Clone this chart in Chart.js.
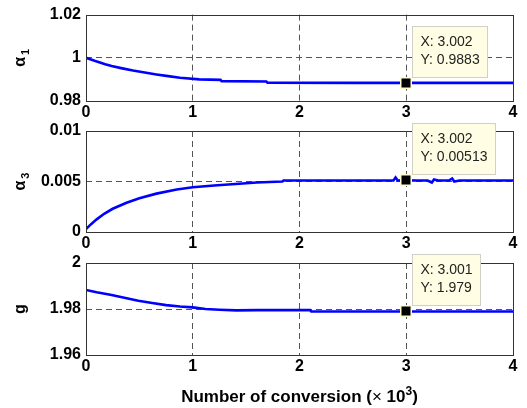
<!DOCTYPE html>
<html><head><meta charset="utf-8">
<script src="https://cdn.jsdelivr.net/npm/chart.js@4"></script>
<style>
html,body{margin:0;padding:0;background:#fff;}
#wrap{position:relative;width:527px;height:408px;overflow:hidden;background:#fff;}
.c{position:absolute;left:0;}
</style></head><body>
<div id="wrap">
<canvas id="c1" class="c" width="527" height="125" style="top:0px;width:527px;height:125px"></canvas>
<canvas id="c2" class="c" width="527" height="141" style="top:115px;width:527px;height:141px"></canvas>
<canvas id="c3" class="c" width="527" height="160" style="top:248px;width:527px;height:160px"></canvas>
</div>
<script>
// ---- data ----
const xTicks = [0, 1, 2, 3, 4];
const xLabelParts = ['Number of conversion (', '\u00d7', ' 10', '3', ')'];

const a1X = [0, 0.04, 0.08, 0.13, 0.18, 0.24, 0.34, 0.44, 0.55, 0.66, 0.77, 0.88, 1.06, 1.26, 1.27, 1.69, 1.70, 2.5, 3.002, 4.0];
const a1Y = [1.0000, 0.9993, 0.9986, 0.9978, 0.9970, 0.9962, 0.9951, 0.9941, 0.9932, 0.9923, 0.9915, 0.9908, 0.9900, 0.9898, 0.9892, 0.9890, 0.9885, 0.9884, 0.9884, 0.9884];
const a1Ticks = [0.98, 1, 1.02];
const a1Tip = [3.002, 0.9883];

const a3X = [0, 0.05, 0.1, 0.17, 0.25, 0.38, 0.5, 0.66, 0.85, 1.0, 1.2, 1.4, 1.6, 1.84, 1.85, 2.2, 2.6, 2.88, 2.9, 2.92, 3.002, 3.1, 3.2, 3.24, 3.26, 3.3, 3.4, 3.43, 3.45, 3.5, 4.0];
const a3Y = [0.0003, 0.0008, 0.00125, 0.0018, 0.0023, 0.0029, 0.00335, 0.0038, 0.0042, 0.00443, 0.0046, 0.00475, 0.0049, 0.0050, 0.0051, 0.0051, 0.0051, 0.0051, 0.0054, 0.0051, 0.00513, 0.0051, 0.0051, 0.0049, 0.0052, 0.0051, 0.0051, 0.0053, 0.0050, 0.0051, 0.0051];
const a3Ticks = [0, 0.005, 0.01];
const a3Tip = [3.002, 0.00513];

const gX = [0, 0.1, 0.24, 0.37, 0.49, 0.62, 0.75, 0.88, 1.0, 1.12, 1.25, 1.41, 1.6, 2.1, 2.11, 3.001, 4.0];
const gY = [1.9883, 1.9873, 1.9861, 1.9848, 1.9836, 1.9826, 1.9817, 1.9811, 1.9807, 1.9800, 1.9797, 1.9794, 1.9795, 1.9795, 1.9789, 1.9789, 1.9789];
const gTicks = [1.96, 1.98, 2];
const gTip = [3.001, 1.979];

// ---- rendering ----
const FONT = '"Liberation Sans", Arial, Helvetica, sans-serif';
Chart.defaults.font.family = FONT;

const framePlugin = {
  id: 'frame',
  afterDraw(chart) {
    const {ctx, chartArea: a} = chart;
    ctx.save();
    ctx.strokeStyle = '#333';
    ctx.lineWidth = 1;
    ctx.setLineDash([]);
    ctx.strokeRect(Math.round(a.left) + 0.5, Math.round(a.top) + 0.5,
                   Math.round(a.right - a.left), Math.round(a.bottom - a.top));
    ctx.restore();
  }
};

const tipPlugin = {
  id: 'tip',
  afterDraw(chart, args, opts) {
    if (!opts || opts.x === undefined) return;
    const ctx = chart.ctx;
    const mx = chart.scales.x.getPixelForValue(opts.x);
    const my = chart.scales.y.getPixelForValue(opts.y);
    const lines = ['X: ' + opts.x, 'Y: ' + opts.y];
    ctx.save();
    ctx.font = '14px ' + FONT;
    const w = Math.round(Math.max(...lines.map(l => ctx.measureText(l).width)) + 16);
    const bx = Math.round(mx + 6) + 0.5, by = Math.round(my - 57) + 0.5, bh = 51;
    ctx.fillStyle = '#fffee4';
    ctx.fillRect(bx, by, w, bh);
    ctx.strokeStyle = '#d0d0c4';
    ctx.lineWidth = 1;
    ctx.strokeRect(bx, by, w, bh);
    ctx.fillStyle = '#222';
    ctx.textBaseline = 'middle';
    ctx.fillText(lines[0], bx + 8, by + 16);
    ctx.fillText(lines[1], bx + 8, by + 34);
    ctx.fillStyle = '#fffbd0';
    ctx.fillRect(Math.round(mx) - 6, Math.round(my) - 6, 12, 12);
    ctx.fillStyle = '#000';
    ctx.fillRect(Math.round(mx) - 4.5, Math.round(my) - 4.5, 9, 9);
    ctx.restore();
  }
};

const yTitlePlugin = {
  id: 'ytitle',
  afterDraw(chart, args, o) {
    if (!o || !o.main) return;
    const ctx = chart.ctx, a = chart.chartArea;
    ctx.save();
    ctx.translate(21, (a.top + a.bottom) / 2);
    ctx.rotate(-Math.PI / 2);
    ctx.fillStyle = '#000';
    ctx.textAlign = 'left';
    ctx.textBaseline = 'alphabetic';
    ctx.font = 'bold 16px ' + FONT;
    const w1 = ctx.measureText(o.main).width;
    ctx.font = 'bold 11px ' + FONT;
    const w2 = o.sub ? ctx.measureText(o.sub).width + 2 : 0;
    const x0 = -(w1 + w2) / 2;
    ctx.font = 'bold 16px ' + FONT;
    ctx.fillText(o.main, x0, 4);
    if (o.sub) {
      ctx.font = 'bold 11px ' + FONT;
      ctx.fillText(o.sub, x0 + w1 + 2, 8);
    }
    ctx.restore();
  }
};

const xTitlePlugin = {
  id: 'xtitle',
  afterDraw(chart, args, o) {
    if (!o || !o.show) return;
    const ctx = chart.ctx, a = chart.chartArea;
    const fonts = ['bold 17px ' + FONT, '17px ' + FONT, 'bold 17px ' + FONT, 'bold 12px ' + FONT, 'bold 17px ' + FONT];
    const dy = [0, 0, 0, -7, 0];
    ctx.save();
    let widths = xLabelParts.map((p, i) => { ctx.font = fonts[i]; return ctx.measureText(p).width; });
    const total = widths.reduce((s, w) => s + w, 0);
    let x = (a.left + a.right) / 2 - total / 2;
    const base = a.bottom + 47;
    ctx.fillStyle = '#000';
    ctx.textAlign = 'left';
    ctx.textBaseline = 'alphabetic';
    xLabelParts.forEach((p, i) => {
      ctx.font = fonts[i];
      ctx.fillText(p, x, base + dy[i]);
      x += widths[i];
    });
    ctx.restore();
  }
};

function gridColor(lo, hi) {
  return ctx => {
    const v = ctx.tick ? ctx.tick.value : null;
    return (v === lo || v === hi) ? 'rgba(0,0,0,0)' : '#555';
  };
}

function make(id, xs, ys, yTicks, yMain, ySub, tip, padTop, xAxisH, showXTitle) {
  const yMin = yTicks[0], yMax = yTicks[yTicks.length - 1];
  new Chart(document.getElementById(id), {
    type: 'line',
    data: {
      datasets: [{
        data: xs.map((x, i) => ({x: x, y: ys[i]})),
        borderColor: '#0000ff',
        borderWidth: 2.6,
        pointRadius: 0,
        tension: 0,
        fill: false
      }]
    },
    options: {
      responsive: false,
      devicePixelRatio: 1,
      animation: false,
      layout: {padding: {top: padTop, right: 14, left: 0, bottom: 0}},
      plugins: {
        legend: {display: false}, tooltip: {enabled: false},
        tip: {x: tip[0], y: tip[1]},
        ytitle: {main: yMain, sub: ySub},
        xtitle: {show: showXTitle}
      },
      scales: {
        x: {
          type: 'linear', min: 0, max: 4,
          afterBuildTicks: s => { s.ticks = xTicks.map(v => ({value: v})); },
          afterFit: s => { s.height = xAxisH; },
          ticks: {font: {size: 16, weight: 'bold'}, color: '#000', padding: 2, maxRotation: 0, autoSkip: false, callback: v => String(v)},
          grid: {drawTicks: false, color: gridColor(0, 4), lineWidth: 1},
          border: {display: false, dash: [6, 4]}
        },
        y: {
          type: 'linear', min: yMin, max: yMax,
          afterBuildTicks: s => { s.ticks = yTicks.map(v => ({value: v})); },
          afterFit: s => { s.width = 86; },
          ticks: {font: {size: 16, weight: 'bold'}, color: '#000', padding: 5, callback: v => String(v)},
          grid: {drawTicks: false, color: gridColor(yMin, yMax), lineWidth: 1},
          border: {display: false, dash: [6, 4]}
        }
      }
    },
    plugins: [framePlugin, tipPlugin, yTitlePlugin, xTitlePlugin]
  });
}

make('c1', a1X, a1Y, a1Ticks, '\u03b1', '1', a1Tip, 13, 24, false);
make('c2', a3X, a3Y, a3Ticks, '\u03b1', '3', a3Tip, 16, 24, false);
make('c3', gX, gY, gTicks, 'g', '', gTip, 15, 53, true);
</script>
</body></html>
